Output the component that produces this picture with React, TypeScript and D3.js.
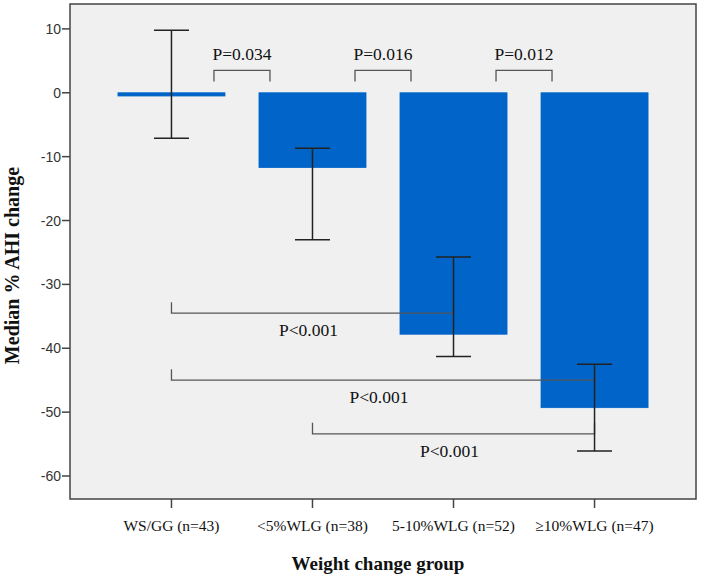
import React from "react";
import * as d3 from "d3";

const categories = ["WS/GG (n=43)", "<5%WLG (n=38)", "5-10%WLG (n=52)", "≥10%WLG (n=47)"];
const medians = [-0.5, -11.7, -37.8, -49.3];
const errLow = [-7.1, -23.0, -41.3, -56.1];
const errHigh = [9.8, -8.7, -25.7, -42.5];
const yTicks = [10, 0, -10, -20, -30, -40, -50, -60];

// comparison brackets: [fromIndex, toIndex, level (value units), label]
const topFrom = [0, 1, 2];
const topTo = [1, 2, 3];
const topLevel = [3.5, 3.5, 3.5];
const topLabels = ["P=0.034", "P=0.016", "P=0.012"];

const botFrom = [0, 0, 1];
const botTo = [2, 3, 3];
const botLevel = [-34.5, -45.0, -53.4];
const botLabels = ["P<0.001", "P<0.001", "P<0.001"];

const W = 701;
const H = 577;
const L = 70, R = 696, T = 4, B = 499;

export default function App() {
  const x = d3.scaleBand<string>().domain(categories).range([L, R]).paddingInner(0.241).paddingOuter(0.34);
  const y = d3.scaleLinear().domain([-63.6, 13.9]).range([B, T]);
  const cx = (i: number) => (x(categories[i]) as number) + x.bandwidth() / 2;
  const serif = "'Liberation Serif', 'Times New Roman', serif";
  const sans = "'Liberation Sans', Arial, sans-serif";
  const cap = 17.5;
  const tickH = 11;

  return (
    <svg width={W} height={H} style={{ position: "absolute", left: 0, top: 0 }}>
      <rect x={0} y={0} width={W} height={H} fill="#ffffff" />
      <rect x={L} y={T} width={R - L} height={B - T} fill="#f0f0f0" />

      {/* bars */}
      {medians.map((v, i) => (
        <rect
          key={"b" + i}
          x={x(categories[i])}
          y={y(Math.max(0, v))}
          width={x.bandwidth()}
          height={Math.abs(y(v) - y(0))}
          fill="#0064c8"
          stroke="#0064c8"
          strokeWidth={0.8}
        />
      ))}

      {/* top brackets */}
      {topFrom.map((f, k) => {
        const x1 = (cx(f) + cx(topTo[k])) / 2 - 28;
        const x2 = (cx(f) + cx(topTo[k])) / 2 + 28;
        const yy = y(topLevel[k]);
        return (
          <g key={"t" + k}>
            <path d={`M${x1},${yy + tickH}V${yy}H${x2}V${yy + tickH}`} fill="none" stroke="#555" strokeWidth={1.3} />
            <text x={(x1 + x2) / 2} y={yy - 10} textAnchor="middle" fontFamily={serif} fontSize={cap} fill="#111">
              {topLabels[k]}
            </text>
          </g>
        );
      })}

      {/* bottom brackets */}
      {botFrom.map((f, k) => {
        const x1 = cx(f);
        const x2 = cx(botTo[k]);
        const yy = y(botLevel[k]);
        return (
          <g key={"bb" + k}>
            <path d={`M${x1},${yy - tickH}V${yy}H${x2}V${yy - tickH}`} fill="none" stroke="#555" strokeWidth={1.3} />
            <text x={(x1 + x2) / 2 - 4} y={yy + 23} textAnchor="middle" fontFamily={serif} fontSize={cap} fill="#111">
              {botLabels[k]}
            </text>
          </g>
        );
      })}

      {/* error bars */}
      {medians.map((_, i) => {
        const c = cx(i);
        return (
          <g key={"e" + i} stroke="#222" strokeWidth={1.5}>
            <line x1={c} x2={c} y1={y(errHigh[i])} y2={y(errLow[i])} />
            <line x1={c - 17.5} x2={c + 17.5} y1={y(errHigh[i])} y2={y(errHigh[i])} />
            <line x1={c - 17.5} x2={c + 17.5} y1={y(errLow[i])} y2={y(errLow[i])} />
          </g>
        );
      })}

      {/* frame */}
      <rect x={L} y={T} width={R - L} height={B - T} fill="none" stroke="#444" strokeWidth={1.5} />

      {/* y axis */}
      {yTicks.map((t) => (
        <g key={"y" + t}>
          <line x1={L - 8} x2={L} y1={y(t)} y2={y(t)} stroke="#444" strokeWidth={1.5} />
          <text x={L - 9} y={y(t) + 5} textAnchor="end" fontFamily={sans} fontSize={14} fill="#333">
            {String(t)}
          </text>
        </g>
      ))}

      {/* x axis */}
      {categories.map((c, i) => (
        <g key={"x" + i}>
          <line x1={cx(i)} x2={cx(i)} y1={B} y2={B + 9} stroke="#444" strokeWidth={1.5} />
          <text x={cx(i)} y={531} textAnchor="middle" fontFamily={serif} fontSize={15.5} fill="#111">
            {c}
          </text>
        </g>
      ))}

      <text x={(L + R) / 2 - 5} y={570} textAnchor="middle" fontFamily={serif} fontWeight="bold" fontSize={19} fill="#111">
        Weight change group
      </text>
      <text
        transform={`translate(19, ${(T + B) / 2 + 14}) rotate(-90)`}
        textAnchor="middle"
        fontFamily={serif}
        fontWeight="bold"
        fontSize={20}
        fill="#111"
      >
        Median % AHI change
      </text>
    </svg>
  );
}
